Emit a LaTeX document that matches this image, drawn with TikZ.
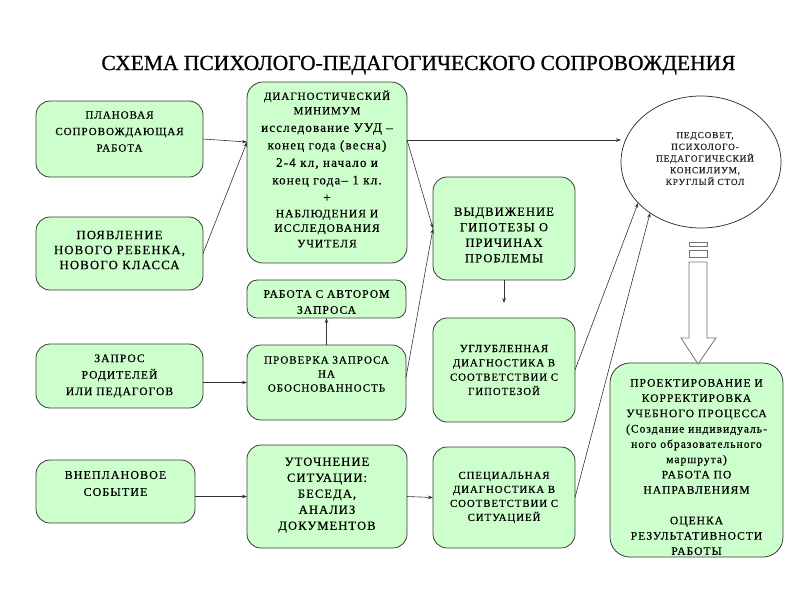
\documentclass[tikz,border=0pt]{standalone}
\usepackage{fontspec}
\setmainfont{Liberation Serif}
\newfontfamily\boxfont{Liberation Serif}[LetterSpace=9,FakeBold=0.6]
\newfontfamily\titlefont{Liberation Serif}[FakeBold=0.8]
\usetikzlibrary{arrows.meta,shapes.geometric}
\newcommand\fsz[2]{\fontsize{#1}{#2}\selectfont}
\definecolor{boxgreen}{HTML}{CCFFCC}
\definecolor{edgecol}{HTML}{3A3A3A}
\begin{document}
\begin{tikzpicture}[x=1pt,y=-1pt,
  box/.style={draw=edgecol, line width=0.8pt, fill=boxgreen, rounded corners=14pt, inner sep=0pt, outer sep=0pt},
  arr/.style={draw=black!80, line width=0.6pt, -{Stealth[length=5pt,width=3.5pt]}},
  bigarrow/.style={draw=black!55, fill=white, line width=0.8pt},
  lt/.style={align=center, inner sep=0pt, text=black}
]
\useasboundingbox (0,0) rectangle (800,600);

\node[anchor=base, font={\titlefont\fsz{21.5}{25}}] (title) at (418.5,70) {СХЕМА ПСИХОЛОГО-ПЕДАГОГИЧЕСКОГО СОПРОВОЖДЕНИЯ};

% left column
\node[box, minimum width=167pt, minimum height=76pt,
  label={[lt, font={\boxfont\fsz{11}{16.5}}, yshift=7.5pt]center:{ПЛАНОВАЯ\\СОПРОВОЖДАЮЩАЯ\\РАБОТА}}] (plan) at (119.5,139) {};
\node[box, minimum width=167pt, minimum height=73pt,
  label={[lt, font={\boxfont\fsz{12.8}{15}}, yshift=3.5pt]center:{ПОЯВЛЕНИЕ\\НОВОГО РЕБЕНКА,\\НОВОГО КЛАССА}}] (pojav) at (119.5,253.5) {};
\node[box, minimum width=167pt, minimum height=64pt,
  label={[lt, font={\boxfont\fsz{11.5}{16.5}}]center:{ЗАПРОС\\РОДИТЕЛЕЙ\\ИЛИ ПЕДАГОГОВ}}] (zap) at (119.5,376) {};
\node[box, minimum width=159pt, minimum height=63pt,
  label={[lt, font={\boxfont\fsz{12}{17}}, yshift=8pt]center:{ВНЕПЛАНОВОЕ\\СОБЫТИЕ}}] (vnep) at (115.5,491.5) {};

% middle column
\node[box, minimum width=160pt, minimum height=181pt, rounded corners=16pt,
  label={[lt, font={\boxfont\fsz{13}{17.5}}, yshift=3.5pt]center:{{\fsz{11}{14}ДИАГНОСТИЧЕСКИЙ}\\[-3pt]{\fsz{11}{14}МИНИМУМ}\\исследование УУД –\\конец года (весна)\\2-4 кл, начало и\\конец года– 1 кл.\\+\\[-2pt]{\fsz{11.5}{15}НАБЛЮДЕНИЯ И}\\[-3pt]{\fsz{11.5}{15}ИССЛЕДОВАНИЯ}\\[-2pt]{\fsz{11.5}{15}УЧИТЕЛЯ}}}] (diag) at (327,172.5) {};
\node[box, minimum width=159pt, minimum height=38pt, rounded corners=10pt,
  label={[lt, font={\boxfont\fsz{11.5}{16}}, yshift=-3pt]center:{РАБОТА С АВТОРОМ\\ЗАПРОСА}}] (avt) at (326.5,299) {};
\node[box, minimum width=159pt, minimum height=75pt,
  label={[lt, font={\boxfont\fsz{11}{14}}, yshift=8.5pt]center:{ПРОВЕРКА ЗАПРОСА\\НА\\ОБОСНОВАННОСТЬ}}] (prov) at (326.5,382.5) {};
\node[box, minimum width=160pt, minimum height=103pt,
  label={[lt, font={\boxfont\fsz{12.5}{16}}, yshift=1.5pt]center:{УТОЧНЕНИЕ\\СИТУАЦИИ:\\БЕСЕДА,\\АНАЛИЗ\\ДОКУМЕНТОВ}}] (utoch) at (327,496.5) {};

% third column
\node[box, minimum width=142pt, minimum height=103pt,
  label={[lt, font={\boxfont\fsz{12.5}{15.5}}, yshift=-6.5pt]center:{ВЫДВИЖЕНИЕ\\ГИПОТЕЗЫ О\\ПРИЧИНАХ\\ПРОБЛЕМЫ}}] (vyd) at (504,228.5) {};
\node[box, minimum width=142pt, minimum height=104pt,
  label={[lt, font={\boxfont\fsz{10.8}{14.3}}]center:{УГЛУБЛЕННАЯ\\ДИАГНОСТИКА В\\СООТВЕТСТВИИ С\\ГИПОТЕЗОЙ}}] (ugl) at (504,370) {};
\node[box, minimum width=142pt, minimum height=101pt,
  label={[lt, font={\boxfont\fsz{10.8}{14}}]center:{СПЕЦИАЛЬНАЯ\\ДИАГНОСТИКА В\\СООТВЕТСТВИИ С\\СИТУАЦИЕЙ}}] (spec) at (504,497.5) {};

% right column
\node[ellipse, draw=black!85, line width=0.7pt, fill=white, minimum width=160pt, minimum height=132pt, inner sep=0pt, outer sep=0pt,
  label={[lt, font={\boxfont\fsz{9.3}{11.7}}, text=black!85, xshift=4pt, yshift=3.5pt]center:{ПЕДСОВЕТ,\\ПСИХОЛОГО-\\ПЕДАГОГИЧЕСКИЙ\\КОНСИЛИУМ,\\КРУГЛЫЙ СТОЛ}}] (ell) at (701,162) {};
\node[box, minimum width=173pt, minimum height=194pt, rounded corners=20pt,
  label={[lt, font={\boxfont\fsz{11.5}{15.3}}, yshift=-7pt]center:{ПРОЕКТИРОВАНИЕ И\\КОРРЕКТИРОВКА\\УЧЕБНОГО ПРОЦЕССА\\(Создание индивидуаль-\\ного образовательного\\маршрута)\\РАБОТА ПО\\НАПРАВЛЕНИЯМ\\[15.3pt]ОЦЕНКА\\РЕЗУЛЬТАТИВНОСТИ\\РАБОТЫ}}] (proekt) at (696.5,460) {};

% big block arrow
\draw[bigarrow] (689,242) rectangle (707,246);
\draw[bigarrow] (689,250) rectangle (707,257);
\draw[bigarrow] (689,262) -- (707,262) -- (707,338) -- (716,338) -- (698,364) -- (681,338) -- (689,338) -- cycle;

% connectors
\coordinate (dIn) at (247,142);
\coordinate (dOut) at (407,140);
\draw[arr] (plan.east) -- (dIn);
\draw[arr] (pojav.east) -- (dIn);
\draw[arr] (dOut) -- (dOut -| ell.west);
\draw[arr] (dOut) -- (vyd.west);
\draw[arr] ([yshift=5pt]prov.east) -- (vyd.west);
\draw[arr, shorten >=15pt] (vyd.south) -- (ugl.north);
\draw[arr] (prov.north) -- (avt.south);
\draw[arr] (zap.east |- prov.west) -- (prov.west);
\draw[arr] (vnep.east |- utoch.west) -- (utoch.west);
\draw[arr] (utoch.east) -- (spec.west);
\draw[arr] (ugl.east) -- (ell.213);
\draw[arr] (spec.east) -- (ell.225);
\end{tikzpicture}
\end{document}
